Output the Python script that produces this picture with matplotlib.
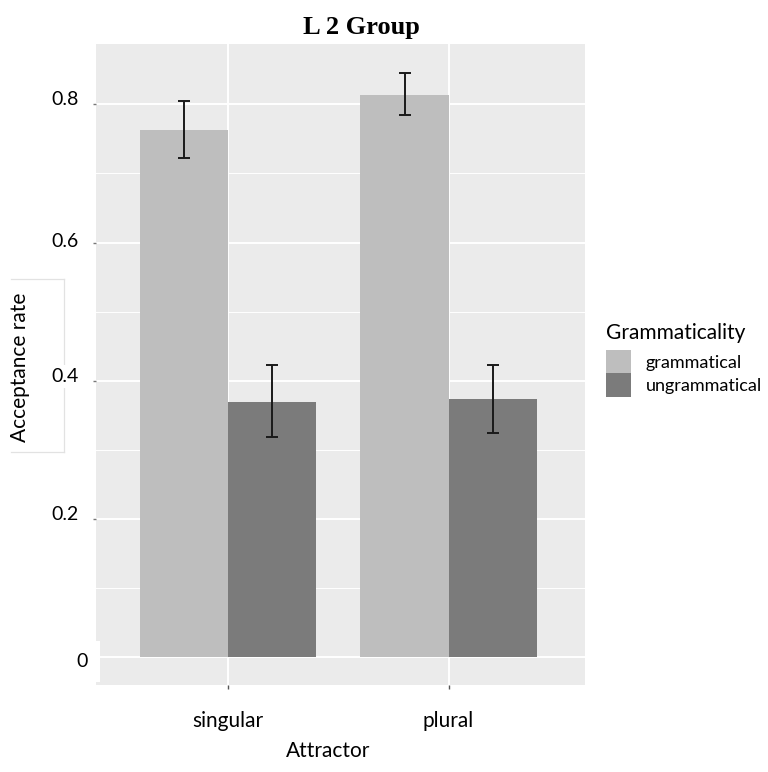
import numpy as np
import matplotlib
matplotlib.use("Agg")
import matplotlib.pyplot as plt
from matplotlib.patches import Patch, Rectangle
from matplotlib.lines import Line2D
from matplotlib.ticker import MultipleLocator
import matplotlib.transforms as mtrans

attractors = ["singular", "plural"]
groups = ["grammatical", "ungrammatical"]
# acceptance rate, error bar lower/upper ends
gram_mean = [0.763, 0.813]
gram_lo = [0.722, 0.784]
gram_hi = [0.805, 0.845]
ungram_mean = [0.369, 0.373]
ungram_lo = [0.318, 0.324]
ungram_hi = [0.422, 0.422]
ytick_vals = [0.0, 0.2, 0.4, 0.6, 0.8]
ytick_text = ["0", "0.2", "0.4", "0.6", "0.8"]

colors = ["#bebebe", "#7b7b7b"]
sans = ["Lato", "DejaVu Sans"]

fig = plt.figure(figsize=(7.68, 7.72), dpi=100)
ax = fig.add_axes([0.125, 0.1127, 0.637, 0.830])
ax.set_facecolor("#ebebeb")

x = np.arange(1, len(attractors) + 1)
w = 0.4
for i, (m, lo, hi) in enumerate([(gram_mean, gram_lo, gram_hi),
                                 (ungram_mean, ungram_lo, ungram_hi)]):
    xs = x + (i - 0.5) * w
    m = np.array(m)
    ax.bar(xs, m, width=w, color=colors[i], zorder=3)
    err = [m - np.array(lo), np.array(hi) - m]
    ax.errorbar(xs, m, yerr=err, fmt="none", ecolor="#1a1a1a",
                elinewidth=1.4, capsize=4, capthick=1.4, zorder=4)

ax.set_xlim(0.4, 2.62)
ax.set_ylim(-0.0405, 0.887)
ax.yaxis.set_major_locator(MultipleLocator(0.2))
ax.yaxis.set_minor_locator(MultipleLocator(0.1))
ax.grid(which="major", color="white", linewidth=1.4, zorder=0)
ax.grid(which="minor", axis="y", color="white", linewidth=0.7, zorder=0)
ax.set_axisbelow(True)
for s in ax.spines.values():
    s.set_visible(False)

ax.set_xticks(x)
ax.set_xticklabels(attractors, fontsize=15, family=sans)
ax.tick_params(axis="x", length=3, width=1, color="#555555", pad=16)
ax.tick_params(axis="y", which="major", length=2, width=1, color="#777777",
               labelleft=False)
ax.tick_params(axis="y", which="minor", length=0)

# y tick labels, each sitting at its own horizontal spot
label_x = [-0.0286, -0.0634, -0.0634, -0.0634, -0.0634]
label_dy = [-0.006, 0.006, 0.006, 0.002, 0.007]
trans = mtrans.blended_transform_factory(ax.transAxes, ax.transData)
for v, t, lx, dy in zip(ytick_vals, ytick_text, label_x, label_dy):
    bb = None
    if t == "0":
        bb = dict(facecolor="white", edgecolor="none", pad=8.5)
    if t == "0.4":
        bb = dict(facecolor="white", edgecolor="none", pad=2)
    ax.text(lx, v + dy, t, transform=trans, ha="center", va="center",
            fontsize=14, family=sans, bbox=bb, zorder=6, clip_on=False)

# white box behind the y-axis title
box = Rectangle((0.0143, 0.4145), 0.069, 0.2241, transform=fig.transFigure,
                facecolor="white", edgecolor="none", zorder=-2)
fig.add_artist(box)
for xx, yy in [([0.0143, 0.0833], [0.6386, 0.6386]),
               ([0.0833, 0.0833], [0.6386, 0.4145]),
               ([0.0143, 0.0833], [0.4145, 0.4145])]:
    fig.add_artist(Line2D(xx, yy, transform=fig.transFigure,
                          color="#e2e2e2", linewidth=0.9, zorder=-1))
fig.text(0.026, 0.5246, "Acceptance rate", rotation=90, ha="center",
         va="center", fontsize=15, family=sans, zorder=-1)
fig.text(0.427, 0.027, "Attractor", ha="center", va="center",
         fontsize=15, family=sans)
fig.text(0.47, 0.965, "L 2 Group", ha="center", va="center",
         fontsize=19, fontweight="bold", family=["Liberation Serif"])

handles = [Patch(facecolor=c, edgecolor="none") for c in colors]
leg = fig.legend(handles, groups, loc="upper left",
                 bbox_to_anchor=(0.777, 0.593), frameon=False,
                 title="Grammaticality", fontsize=13,
                 title_fontsize=15, handlelength=1.4, handleheight=1.6,
                 labelspacing=0.0, handletextpad=0.8, borderpad=0)
leg._legend_box.align = "left"
leg._legend_box.sep = 5
for t in leg.get_texts():
    t.set_family(sans)
leg.get_title().set_family(sans)

fig.savefig("out.png", dpi=100, facecolor="white")
